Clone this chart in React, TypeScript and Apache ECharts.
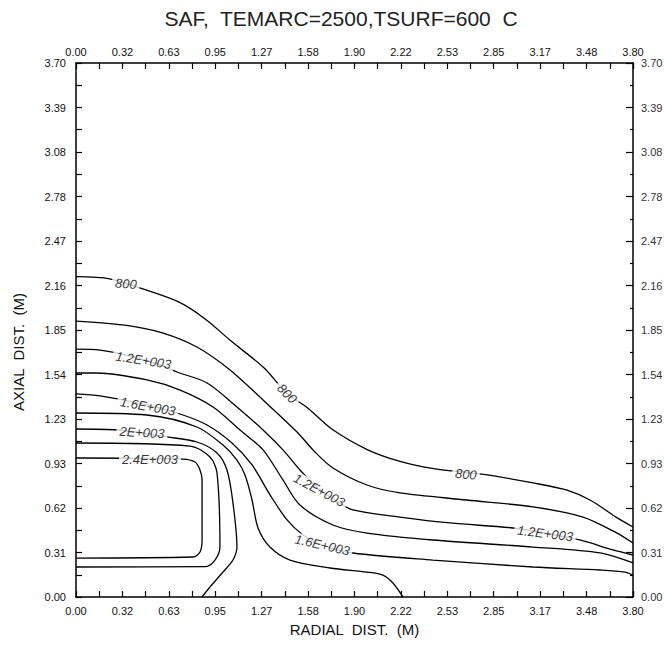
import React, { useEffect, useRef } from "react";
import * as echarts from "echarts";

const TITLE = "SAF,  TEMARC=2500,TSURF=600  C";
const X_NAME = "RADIAL  DIST.  (M)";
const Y_NAME = "AXIAL  DIST.  (M)";

const X_MAX = 3.8;
const Y_MAX = 3.7;
const X_TICK_LABELS = ["0.00", "0.32", "0.63", "0.95", "1.27", "1.58", "1.90", "2.22", "2.53", "2.85", "3.17", "3.48", "3.80"];
const Y_TICK_LABELS = ["0.00", "0.31", "0.62", "0.93", "1.23", "1.54", "1.85", "2.16", "2.47", "2.78", "3.08", "3.39", "3.70"];

// contour lines [radial, axial]
const c800 = [[0, 2.22], [0.23, 2.205], [0.44, 2.14], [0.71, 2.04], [0.89, 1.92], [1.05, 1.78], [1.28, 1.59], [1.44, 1.41], [1.58, 1.31], [1.75, 1.16], [1.99, 1.02], [2.21, 0.94], [2.44, 0.89], [2.78, 0.85], [3.12, 0.79], [3.35, 0.74], [3.51, 0.67], [3.69, 0.55], [3.8, 0.485]];
const c1000 = [[0, 1.912], [0.321, 1.885], [0.594, 1.829], [0.825, 1.732], [1.051, 1.573], [1.276, 1.365], [1.508, 1.143], [1.63, 1.005], [1.753, 0.894], [1.985, 0.776], [2.21, 0.721], [2.667, 0.672], [3.118, 0.624], [3.459, 0.554], [3.691, 0.443], [3.8, 0.374]];
const c1200 = [[0, 1.718], [0.164, 1.711], [0.368, 1.67], [0.573, 1.608], [0.689, 1.559], [0.894, 1.483], [1.098, 1.317], [1.276, 1.157], [1.412, 1.019], [1.528, 0.88], [1.665, 0.741], [1.767, 0.672], [1.89, 0.603], [2.21, 0.554], [2.552, 0.513], [2.981, 0.478], [3.2, 0.443], [3.438, 0.395], [3.664, 0.326], [3.8, 0.291]];
const c1400 = [[0, 1.552], [0.143, 1.552], [0.484, 1.504], [0.71, 1.434], [0.935, 1.317], [1.119, 1.157], [1.276, 1.019], [1.412, 0.811], [1.528, 0.637], [1.753, 0.499], [1.985, 0.443], [2.435, 0.395], [3.118, 0.346], [3.575, 0.305], [3.8, 0.236]];
const c1600 = [[0, 1.407], [0.164, 1.393], [0.491, 1.33], [0.71, 1.268], [0.894, 1.192], [1.064, 1.067], [1.201, 0.915], [1.324, 0.707], [1.44, 0.534], [1.549, 0.43], [1.678, 0.36], [1.89, 0.305], [2.435, 0.256], [3.118, 0.208], [3.575, 0.187], [3.745, 0.173], [3.8, 0.152]];
const c1800 = [[0, 1.275], [0.484, 1.261], [0.825, 1.178], [1.003, 1.053], [1.098, 0.949], [1.153, 0.845], [1.201, 0.672], [1.242, 0.478], [1.323, 0.346], [1.46, 0.256], [1.733, 0.201], [1.985, 0.173], [2.094, 0.152], [2.162, 0.097], [2.231, 0]];
const c2000 = [[0, 1.164], [0.287, 1.157], [0.621, 1.109], [0.825, 1.074], [0.962, 0.998], [1.03, 0.88], [1.071, 0.651], [1.098, 0.346], [1.071, 0.256], [1.003, 0.173], [0.914, 0.069], [0.86, 0]];
const c2200 = [[0, 1.067], [0.778, 1.046], [0.914, 0.97], [0.962, 0.859], [0.982, 0.346], [0.948, 0.256], [0.88, 0.21], [0, 0.208]];
const c2400 = [[0, 0.963], [0.73, 0.956], [0.812, 0.935], [0.846, 0.88], [0.86, 0.811], [0.86, 0.395], [0.846, 0.312], [0.798, 0.277], [0, 0.27]];

const CONTOURS = [c800, c1000, c1200, c1400, c1600, c1800, c2000, c2200, c2400];

// contour labels: text, radial, axial, rotation (deg)
const LABEL_TEXTS = ["800", "800", "800", "1.2E+003", "1.2E+003", "1.2E+003", "1.6E+003", "1.6E+003", "2E+003", "2.4E+003"];
const LABEL_X = [0.34, 1.44, 2.66, 0.46, 1.66, 3.2, 0.49, 1.68, 0.45, 0.505];
const LABEL_Y = [2.17, 1.41, 0.85, 1.64, 0.74, 0.44, 1.32, 0.36, 1.14, 0.956];
const LABEL_ROT = [-4, -45, -5, -9, -28, -7, -10, -13, -3, 0];

const FONT = "'Liberation Sans', Arial, sans-serif";

export default function App() {
  const ref = useRef<HTMLDivElement>(null);
  useEffect(() => {
    document.body.style.margin = "0";
    if (!ref.current) return;
    const chart = echarts.init(ref.current, null, { renderer: "svg" });
    const xStep = X_MAX / 12;
    const yStep = Y_MAX / 12;
    const xFmt = (v: number) => X_TICK_LABELS[Math.round(v / xStep)] ?? "";
    const yFmt = (v: number) => Y_TICK_LABELS[Math.round(v / yStep)] ?? "";
    const axisCommon = {
      type: "value" as const,
      axisLine: { show: true, onZero: false, lineStyle: { color: "#000", width: 1.5 } },
      splitLine: { show: false },
      axisTick: { show: true, inside: true, length: 6, lineStyle: { color: "#000", width: 1.2 } },
      minorTick: { show: true, splitNumber: 2, length: 6, lineStyle: { color: "#000", width: 1.2 } },
      axisLabel: { color: "#111", fontSize: 11, fontFamily: FONT },
    };
    const series: any[] = CONTOURS.map((c) => ({
      type: "line",
      data: c,
      showSymbol: false,
      smooth: 0.3,
      lineStyle: { color: "#000", width: 1.3 },
      z: 2,
      silent: true,
    }));
    series.push({
      type: "scatter",
      symbolSize: 1,
      itemStyle: { color: "rgba(0,0,0,0)" },
      z: 5,
      data: LABEL_TEXTS.map((t, i) => ({
        value: [LABEL_X[i], LABEL_Y[i]],
        label: {
          show: true,
          position: "inside",
          formatter: t,
          rotate: LABEL_ROT[i],
          color: "#000",
          fontSize: 13,
          fontStyle: "italic",
          fontFamily: FONT,
          backgroundColor: "#fff",
          padding: [0, 3],
        },
      })),
    });
    chart.setOption({
      animation: false,
      backgroundColor: "#fff",
      grid: { left: 76, right: 33, top: 63, bottom: 48, outerBoundsMode: "none" },
      graphic: [
        {
          type: "text",
          x: 341,
          y: 18,
          style: { text: TITLE, fontSize: 21, fontFamily: FONT, fill: "#222", align: "center", verticalAlign: "middle" },
        },
        {
          type: "text",
          x: 18,
          y: 352,
          rotation: Math.PI / 2,
          style: { text: Y_NAME, fontSize: 15, fontFamily: FONT, fill: "#111", align: "center", verticalAlign: "middle" },
        },
      ],
      xAxis: [
        {
          ...axisCommon,
          position: "bottom",
          min: 0,
          max: X_MAX,
          interval: xStep,
          name: X_NAME,
          nameLocation: "middle",
          nameGap: 25,
          nameTextStyle: { fontSize: 15, fontFamily: FONT, color: "#111" },
          axisLabel: { ...axisCommon.axisLabel, margin: 8, formatter: xFmt },
        },
        {
          ...axisCommon,
          position: "top",
          min: 0,
          max: X_MAX,
          interval: xStep,
          axisLabel: { ...axisCommon.axisLabel, margin: 6, formatter: xFmt },
        },
      ],
      yAxis: [
        {
          ...axisCommon,
          position: "left",
          min: 0,
          max: Y_MAX,
          interval: yStep,
          axisLabel: { ...axisCommon.axisLabel, margin: 10, formatter: yFmt },
        },
        {
          ...axisCommon,
          position: "right",
          min: 0,
          max: Y_MAX,
          interval: yStep,
          axisTick: { ...axisCommon.axisTick, length: 7 },
          minorTick: { ...axisCommon.minorTick, length: 3 },
          axisLabel: { ...axisCommon.axisLabel, margin: 8, color: "#333", formatter: yFmt },
        },
      ],
      series,
    });
    return () => chart.dispose();
  }, []);
  return <div ref={ref} style={{ width: 666, height: 645 }} />;
}
